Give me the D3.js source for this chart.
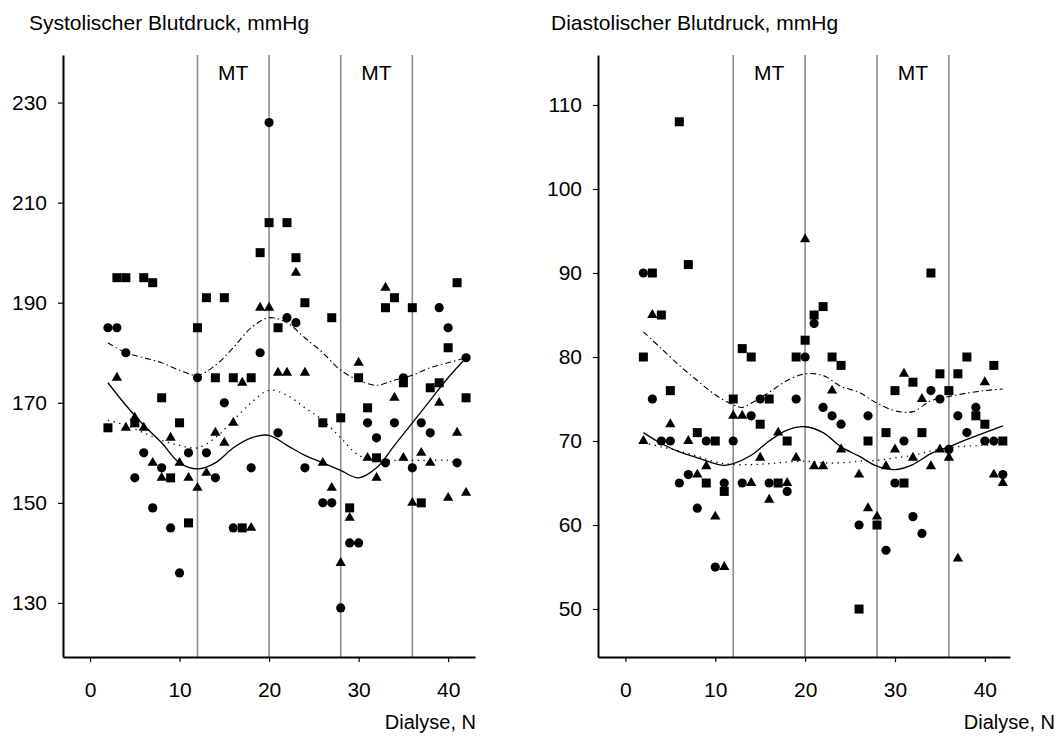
<!DOCTYPE html>
<html><head><meta charset="utf-8">
<script src="https://cdn.jsdelivr.net/npm/d3@7"></script>
<style>body{margin:0;background:#fff}svg{display:block}text{font-family:"Liberation Sans",Arial,sans-serif;fill:#000}</style>
</head><body><svg id="c" width="1060" height="744"></svg>
<script>
// ---------- data ----------
const sysSquares = [[2,165],[3,195],[4,195],[5,166],[6,195],[7,194],[8,171],[9,155],[10,166],[11,146],[12,185],[13,191],[14,175],[15,191],[16,175],[17,145],[18,175],[19,200],[20,206],[21,185],[22,206],[23,199],[24,190],[26,166],[27,187],[28,167],[29,149],[30,175],[31,169],[32,159],[33,189],[34,191],[35,174],[36,189],[37,150],[38,173],[39,174],[40,181],[41,194],[42,171]];
const sysCircles = [[2,185],[3,185],[4,180],[5,155],[6,160],[7,149],[8,157],[9,145],[10,136],[11,160],[12,175],[13,160],[14,155],[15,170],[16,145],[18,157],[19,180],[20,226],[21,164],[22,187],[23,186],[24,157],[26,150],[27,150],[28,129],[29,142],[30,142],[31,166],[32,163],[33,158],[34,166],[35,175],[36,157],[37,166],[38,164],[39,189],[40,185],[41,158],[42,179]];
const sysTriangles = [[3,175],[4,165],[5,167],[6,165],[7,158],[8,155],[9,163],[10,158],[11,155],[12,153],[13,156],[14,164],[15,162],[16,166],[17,174],[18,145],[19,189],[20,189],[21,176],[22,176],[23,196],[24,176],[26,158],[27,153],[28,138],[29,147],[30,178],[31,159],[32,155],[33,193],[34,171],[35,159],[36,150],[37,160],[38,158],[39,170],[40,151],[41,164],[42,152]];
const sysSolid = [[2,174],[4,169.5],[6,165.5],[8,162],[10,158],[12,156.8],[14,158],[16,161],[18,163],[20,163.5],[22,161.5],[24,159.5],[26,158],[28,156.5],[30,155],[32,157],[34,161.5],[36,166],[38,170.5],[40,175],[42,179]];
const sysDotted = [[2,166.5],[4,165.5],[6,164],[8,162.5],[10,161.5],[12,161],[14,163],[16,166.5],[18,170],[20,172.5],[22,171.5],[24,169],[26,166.5],[28,163],[30,159.5],[32,158.5],[34,158.5],[36,158.5],[38,158.5],[40,158.5],[41,158]];
const sysDashDot = [[2,182],[4,180],[6,179],[8,178],[10,176.5],[12,175.5],[14,177.5],[16,181],[18,185],[20,187],[22,186],[24,183],[26,180],[28,176.5],[30,174.5],[32,173.5],[34,174.5],[36,175.5],[38,177],[40,178],[42,179]];

const diaSquares = [[2,80],[3,90],[4,85],[5,76],[6,108],[7,91],[8,71],[9,65],[10,70],[11,64],[12,75],[13,81],[14,80],[15,72],[16,75],[17,65],[18,70],[19,80],[20,82],[21,85],[22,86],[23,80],[24,79],[26,50],[27,70],[28,60],[29,71],[30,76],[31,65],[32,77],[33,71],[34,90],[35,78],[36,76],[37,78],[38,80],[39,73],[40,72],[41,79],[42,70]];
const diaCircles = [[2,90],[3,75],[4,70],[5,70],[6,65],[7,66],[8,62],[9,70],[10,55],[11,65],[12,70],[13,65],[14,73],[15,75],[16,65],[18,64],[19,75],[20,80],[21,84],[22,74],[23,73],[24,72],[26,60],[27,73],[29,57],[30,65],[31,70],[32,61],[33,59],[34,76],[35,75],[36,69],[37,73],[38,71],[39,74],[40,70],[41,70],[42,66]];
const diaTriangles = [[2,70],[3,85],[5,72],[7,70],[8,66],[9,67],[10,61],[11,55],[12,73],[13,73],[14,65],[15,68],[16,63],[17,71],[18,65],[19,68],[20,94],[21,67],[22,67],[23,76],[24,69],[26,66],[27,62],[28,61],[29,67],[30,69],[31,78],[32,68],[33,75],[34,67],[35,69],[36,68],[37,56],[40,77],[41,66],[42,65]];
const diaSolid = [[2,71],[4,69.7],[6,68.7],[8,68],[10,67.3],[11,67.1],[12,67.3],[14,68.3],[16,70],[18,71.3],[20,71.7],[22,71],[24,69.3],[26,68.2],[28,67],[30,66.6],[32,67.2],[34,68.5],[36,69.3],[38,70.2],[40,71],[42,71.8]];
const diaDotted = [[2,69.8],[4,69.3],[6,68.8],[8,68.2],[10,67.5],[12,67.2],[14,67.2],[16,67.3],[18,67.5],[20,67.6],[22,67.4],[24,67.4],[26,67.6],[28,67.7],[30,68],[32,68.3],[34,68.8],[36,69.2],[38,69.4],[40,69.5],[42,69.6]];
const diaDashDot = [[2,83],[4,81],[6,79],[8,77.2],[10,75.5],[12,74.3],[13,74],[14,74.5],[16,75.8],[18,77.2],[20,78],[22,77.8],[24,76.5],[26,75.8],[28,74.5],[30,73.6],[32,73.5],[34,74.8],[36,75.3],[38,75.7],[40,76],[42,76.2]];

const xTicks = [0,10,20,30,40];
const sysYTicks = [130,150,170,190,210,230];
const diaYTicks = [50,60,70,80,90,100,110];
const mtLines = [12,20,28,36];
const mtLabels = [[16,"MT"],[32,"MT"]];
const sysTitle = "Systolischer Blutdruck, mmHg";
const diaTitle = "Diastolischer Blutdruck, mmHg";
const xTitle = "Dialyse, N";

// ---------- drawing ----------
const FS = 21;
const svg = d3.select("#c");

function panel(cfg){
  const g = svg.append("g");
  const x = d3.scaleLinear().domain(cfg.xDomain).range([cfg.left, cfg.right]);
  const y = d3.scaleLinear().domain(cfg.yDomain).range([cfg.bottom, cfg.top]);

  g.append("text").attr("x", cfg.titleX).attr("y", 29.5).attr("font-size", FS).text(cfg.title);

  // reference lines
  g.selectAll("line.mt").data(mtLines).join("line")
    .attr("x1", d=>x(d)).attr("x2", d=>x(d)).attr("y1", cfg.top).attr("y2", cfg.bottom)
    .attr("stroke", "#8c8c8c").attr("stroke-width", 1.6);
  g.selectAll("text.mt").data(mtLabels).join("text")
    .attr("x", d=>x(d[0])).attr("y", 79.5).attr("text-anchor","middle").attr("font-size",FS).text(d=>d[1]);

  // axes
  const ya = g.append("g").attr("transform", `translate(${cfg.left},0)`)
    .call(d3.axisLeft(y).tickValues(cfg.yTicks).tickSize(5).tickPadding(11).tickSizeOuter(0));
  const xa = g.append("g").attr("transform", `translate(0,${cfg.bottom})`)
    .call(d3.axisBottom(x).tickValues(xTicks).tickSize(5).tickPadding(20).tickSizeOuter(0));
  [ya, xa].forEach(a=>{
    a.select(".domain").attr("stroke","#000").attr("stroke-width",2);
    a.selectAll(".tick line").attr("stroke","#000").attr("stroke-width",1.2);
    a.selectAll(".tick text").attr("font-size",FS).attr("font-family",'"Liberation Sans",Arial,sans-serif').attr("fill","#000");
  });

  g.append("text").attr("x", cfg.xTitleX).attr("y", 729).attr("text-anchor","end").attr("font-size",FS-1).text(xTitle);

  // trend lines
  const line = d3.line().x(d=>x(d[0])).y(d=>y(d[1])).curve(d3.curveCatmullRom.alpha(0.5));
  g.append("path").attr("d", line(cfg.dashdot)).attr("fill","none").attr("stroke","#000").attr("stroke-width",1.1).attr("stroke-dasharray","6,3,1.5,3");
  g.append("path").attr("d", line(cfg.dotted)).attr("fill","none").attr("stroke","#000").attr("stroke-width",1.3).attr("stroke-dasharray","1.3,4.5");
  g.append("path").attr("d", line(cfg.solid)).attr("fill","none").attr("stroke","#000").attr("stroke-width",1.3);

  // markers
  g.selectAll("rect.sq").data(cfg.squares).join("rect")
    .attr("x", d=>x(d[0])-4.5).attr("y", d=>y(d[1])-4.5).attr("width",9).attr("height",9).attr("fill","#000");
  g.selectAll("circle.ci").data(cfg.circles).join("circle")
    .attr("cx", d=>x(d[0])).attr("cy", d=>y(d[1])).attr("r",4.6).attr("fill","#000");
  const tri = d3.symbol().type(d3.symbolTriangle).size(46);
  g.selectAll("path.tr").data(cfg.triangles).join("path")
    .attr("transform", d=>`translate(${x(d[0])},${y(d[1])})`).attr("d", tri).attr("fill","#000");
}

panel({left:63,right:475,top:55,bottom:657,xDomain:[-3.02,43],yDomain:[119.2,239.5],
  yTicks:sysYTicks,title:sysTitle,titleX:29,xTitleX:476,
  squares:sysSquares,circles:sysCircles,triangles:sysTriangles,solid:sysSolid,dotted:sysDotted,dashdot:sysDashDot});
panel({left:598,right:1010,top:55,bottom:657,xDomain:[-3.05,42.8],yDomain:[44.29,115.95],
  yTicks:diaYTicks,title:diaTitle,titleX:551,xTitleX:1055,
  squares:diaSquares,circles:diaCircles,triangles:diaTriangles,solid:diaSolid,dotted:diaDotted,dashdot:diaDashDot});
</script></body></html>
